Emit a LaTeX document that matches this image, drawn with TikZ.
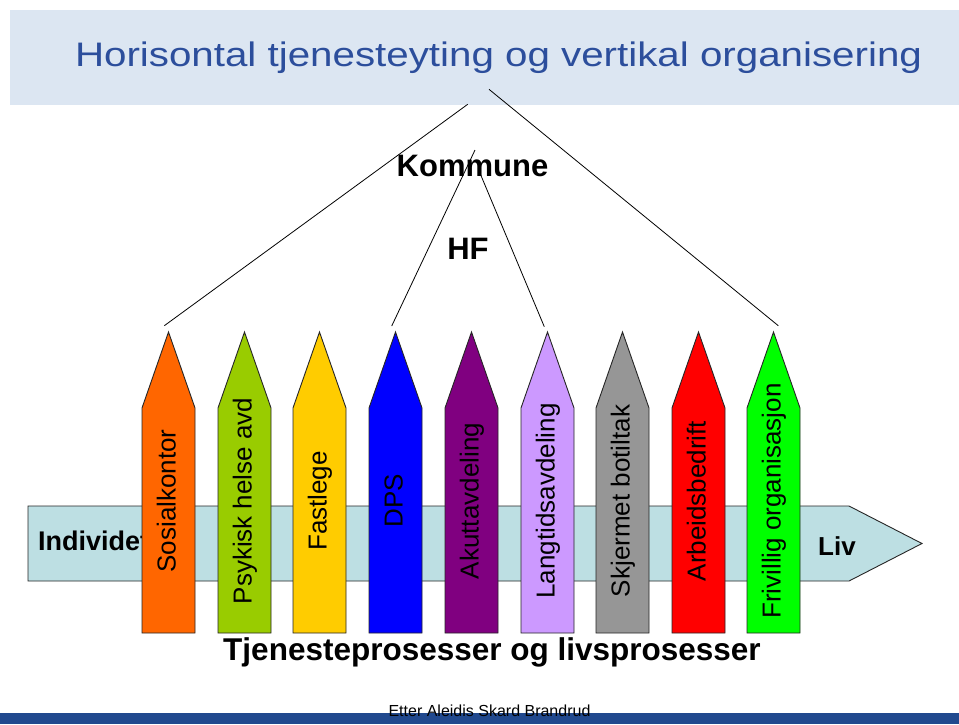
\documentclass[tikz,border=0pt]{standalone}
\usepackage{fontspec}
\setmainfont{Liberation Sans}
\usepackage{graphicx}
\definecolor{bandblue}{RGB}{220,230,242}
\definecolor{titleblue}{RGB}{44,78,156}
\definecolor{footblue}{RGB}{33,73,142}
\definecolor{flowblue}{RGB}{189,223,227}
\definecolor{cSosial}{RGB}{255,102,0}
\definecolor{cPsyk}{RGB}{153,204,0}
\definecolor{cFast}{RGB}{255,204,0}
\definecolor{cDPS}{RGB}{0,0,255}
\definecolor{cAkutt}{RGB}{128,0,128}
\definecolor{cLang}{RGB}{204,153,255}
\definecolor{cSkj}{RGB}{150,150,150}
\definecolor{cArb}{RGB}{255,0,0}
\definecolor{cFri}{RGB}{0,255,0}
\tikzset{
  outline/.style={draw=black!85, line width=0.9pt, line join=miter},
  pencillabel/.style={rotate=90, anchor=base, inner sep=0pt, font=\fontsize{26}{28}\selectfont},
  boldlabel/.style={anchor=base, inner sep=0pt, font=\bfseries\fontsize{#1}{#1}\selectfont},
  link/.style={draw=black, line width=0.8pt}
}
\begin{document}
\begin{tikzpicture}[x=1pt, y=-1pt]
\useasboundingbox (0,0) rectangle (959,724);
\fill[white] (0,0) rectangle (959,724);

% title band
\fill[bandblue] (10,10) rectangle (959,105);
\node[anchor=base, inner sep=0pt, text=titleblue, font=\fontsize{34}{36}\selectfont] (title) at (498.5,66)
  {\resizebox{847pt}{\height}{Horisontal tjenesteyting og vertikal organisering}};

% footer bar
\fill[footblue] (0,713) rectangle (959,724);

% horizontal flow arrow
\path[outline, fill=flowblue] (28,506) -- (849,506) -- (922,543.5) -- (849,581) -- (28,581) -- cycle;
\node[boldlabel=27, anchor=base west] (indiv) at (38,550) {Individet};
\node[boldlabel=26, anchor=base west] (liv) at (818,555) {Liv};

% organisational lines
\coordinate (topL) at (467.7,104.3);
\coordinate (topR) at (489,89.3);
\coordinate (komL) at (475,150);
\coordinate (komR) at (479.5,172);
\coordinate (endSosial) at (164.3,325.7);
\coordinate (endFri) at (778.3,325.7);
\coordinate (endDPS) at (391.7,326);
\coordinate (endLang) at (544.3,326.7);
\draw[link] (topL) -- (endSosial);
\draw[link] (topR) -- (endFri);
\draw[link] (komL) -- (endDPS);
\draw[link] (komR) -- (endLang);

\node[boldlabel=31] (kommune) at (472.5,176) {Kommune};
\node[boldlabel=31] (hf) at (468,259) {HF};

% service pencils
\foreach \L/\c/\t/\n in {
  142/cSosial/Sosialkontor/p1,
  218/cPsyk/Psykisk helse avd/p2,
  293/cFast/Fastlege/p3,
  369/cDPS/DPS/p4,
  445/cAkutt/Akuttavdeling/p5,
  521/cLang/Langtidsavdeling/p6,
  596/cSkj/Skjermet botiltak/p7,
  672/cArb/Arbeidsbedrift/p8,
  747/cFri/Frivillig organisasjon/p9} {
  \path[outline, fill=\c] (\L,408) -- (\L+26.5,332) -- (\L+53,408) -- (\L+53,633) -- (\L,633) -- cycle;
  \node[pencillabel] (\n) at (\L+33.5,501) {\t};
}

\node[boldlabel=31.5] (prosess) at (492,660) {Tjenesteprosesser og livsprosesser};

\node[anchor=base, inner sep=0pt, font=\fontsize{16}{18}\selectfont] (credit) at (489.5,716) {Etter Aleidis Skard Brandrud};
\end{tikzpicture}
\end{document}
